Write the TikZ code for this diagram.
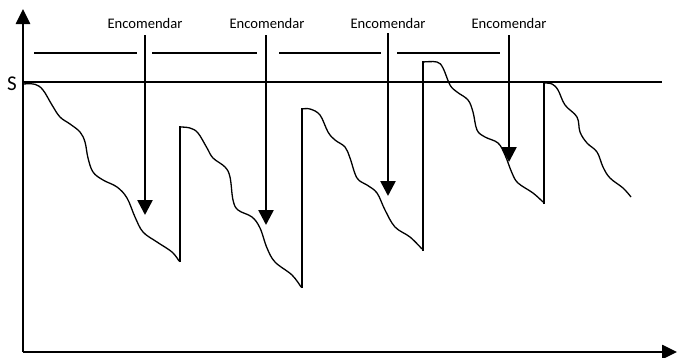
\documentclass[tikz,border=0pt]{standalone}
\usepackage{fontspec}
\setmainfont{Carlito}
\usetikzlibrary{arrows.meta}
\begin{document}
\begin{tikzpicture}[x=1pt,y=-1pt,
  axis/.style={line width=2.6pt,-{Triangle[length=15pt,width=14pt]}},
  orderarrow/.style={line width=2.6pt,-{Triangle[length=15pt,width=15pt]}},
  thinline/.style={line width=1.3pt},
  curve/.style={line width=1.3pt,line join=round},
  lbl/.style={font=\fontsize{14.6}{17}\selectfont,anchor=base,inner sep=0pt},
  slbl/.style={font=\fontsize{21}{24}\selectfont,anchor=base,inner sep=0pt}]
\useasboundingbox (0,0) rectangle (677,357);
% axes
\coordinate (O) at (23,352);
\coordinate (Ytop) at (23,9);
\coordinate (Xend) at (677,352);
\draw[axis] (O) -- (Ytop);
\draw[axis] (O) -- (Xend);
% S level
\node[slbl] (S) at (12,90) {S};
\coordinate (S0) at (23,82);
\coordinate (S1) at (662,82);
\draw[thinline] (S0) -- (S1);
% upper segments
\coordinate (u1a) at (34,53); \coordinate (u1b) at (137,53);
\coordinate (u2a) at (152,53); \coordinate (u2b) at (257,53);
\coordinate (u3a) at (279,53); \coordinate (u3b) at (381,53);
\coordinate (u4a) at (397,53); \coordinate (u4b) at (500,53);
\draw[thinline] (u1a) -- (u1b);
\draw[thinline] (u2a) -- (u2b);
\draw[thinline] (u3a) -- (u3b);
\draw[thinline] (u4a) -- (u4b);
% labels and order arrows
\node[lbl] (e1) at (145,28) {Encomendar};
\node[lbl] (e2) at (267,28) {Encomendar};
\node[lbl] (e3) at (388,28) {Encomendar};
\node[lbl] (e4) at (509,28) {Encomendar};
\coordinate (a1s) at (145,35); \coordinate (a1e) at (145,215);
\coordinate (a2s) at (266,35); \coordinate (a2e) at (266,225);
\coordinate (a3s) at (388,33); \coordinate (a3e) at (388,196);
\coordinate (a4s) at (509,35); \coordinate (a4e) at (509,162);
\draw[orderarrow] (a1s) -- (a1e);
\draw[orderarrow] (a2s) -- (a2e);
\draw[orderarrow] (a3s) -- (a3e);
\draw[orderarrow] (a4s) -- (a4e);
% inventory curves
\draw[curve] plot[smooth,tension=0.6] coordinates {(23,84) (35,84.3) (43,90) (52,105) (60,117) (70,124) (80,132) (85,142) (88,158) (93,172) (103,180) (117,187) (127,198) (135,217) (143,232) (157,242) (172,252) (179,261)};
\coordinate (r1b) at (180,262); \coordinate (r1t) at (180,126);
\draw[curve] (r1b) -- (r1t);
\draw[curve] plot[smooth,tension=0.6] coordinates {(180,127) (190,128) (198,133) (207,148) (213,158) (225,167) (230,177) (233,200) (238,210) (252,217) (260,228) (267,248) (275,262) (292,275) (301,287)};
\coordinate (r2b) at (302,288); \coordinate (r2t) at (302,108);
\draw[curve] (r2b) -- (r2t);
\draw[curve] plot[smooth,tension=0.6] coordinates {(302,109) (310,109) (320,115) (328,132) (335,140) (345,147) (350,158) (357,178) (367,185) (377,193) (385,210) (395,227) (410,237) (422,249)};
\coordinate (r3b) at (423,251); \coordinate (r3t) at (423,61);
\draw[curve] (r3b) -- (r3t);
\draw[curve] plot[smooth,tension=0.6] coordinates {(423,62) (437,62) (443,68) (450,85) (457,92) (468,100) (473,112) (477,130) (485,137) (498,143) (505,155) (512,173) (518,183) (533,193) (543,202)};
\coordinate (r4b) at (544,204); \coordinate (r4t) at (544,82);
\draw[curve] (r4b) -- (r4t);
\draw[curve] plot[smooth,tension=0.6] coordinates {(544,83) (552,84) (558,90) (565,105) (577,117) (580,132) (587,143) (597,152) (603,167) (610,178) (623,188) (631,197)};
\end{tikzpicture}
\end{document}
